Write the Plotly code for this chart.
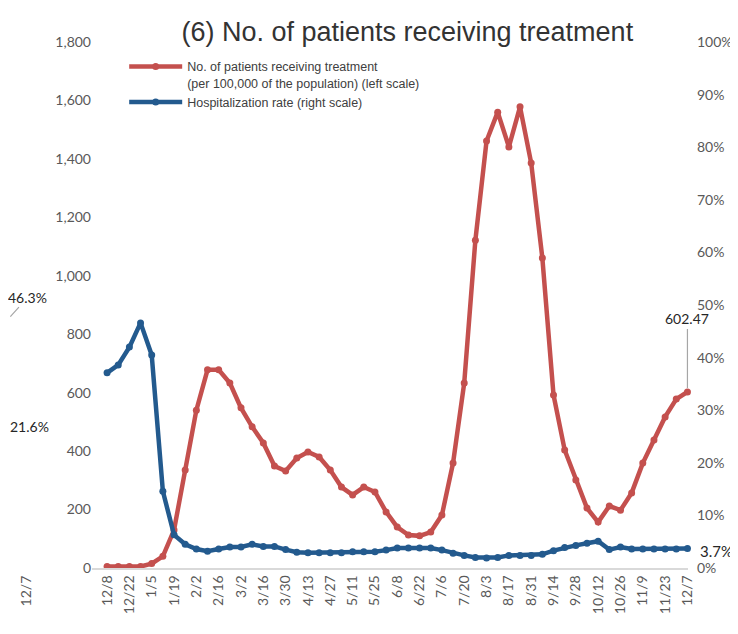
import plotly.graph_objects as go

weeks = ["12/8", "12/15", "12/22", "12/29", "1/5", "1/12", "1/19", "1/26", "2/2", "2/9",
         "2/16", "2/23", "3/2", "3/9", "3/16", "3/23", "3/30", "4/6", "4/13", "4/20",
         "4/27", "5/4", "5/11", "5/18", "5/25", "6/1", "6/8", "6/15", "6/22", "6/29",
         "7/6", "7/13", "7/20", "7/27", "8/3", "8/10", "8/17", "8/24", "8/31", "9/7",
         "9/14", "9/21", "9/28", "10/5", "10/12", "10/19", "10/26", "11/2", "11/9", "11/16",
         "11/23", "11/30", "12/7"]

patients = [5, 5, 5, 5, 15, 40, 130, 335, 540, 678,
            678, 633, 548, 483, 428, 349, 332, 376, 397, 380,
            335, 277, 250, 277, 260, 192, 140, 113, 110, 123,
            181, 359, 633, 1122, 1461, 1560, 1441, 1578, 1386, 1061,
            592, 404, 301, 205, 157, 212, 198, 257, 359, 438,
            517, 578, 602.47]

hosp_rate = [37.1, 38.6, 42.0, 46.6, 40.5, 14.6, 6.3, 4.5, 3.6, 3.2,
             3.6, 4.0, 4.0, 4.5, 4.1, 4.1, 3.5, 3.0, 2.9, 2.9,
             2.9, 2.9, 3.1, 3.1, 3.1, 3.4, 3.8, 3.8, 3.8, 3.8,
             3.4, 2.8, 2.4, 2.0, 1.9, 2.0, 2.4, 2.4, 2.4, 2.6,
             3.3, 3.9, 4.3, 4.7, 5.1, 3.5, 4.0, 3.6, 3.6, 3.6,
             3.6, 3.6, 3.7]

tick_labels = weeks[::2]

# labels of the neighbouring chart that is cut off at the left edge
prev_chart_labels = ["46.3%", "21.6%", "12/7"]

RED = "#C4504E"
BLUE = "#235A8E"
GREY_TXT = "#595959"
TICK_FONT = dict(family="Lato, Liberation Sans, sans-serif", size=14, color=GREY_TXT)
DARK_FONT = dict(family="Lato, Liberation Sans, sans-serif", size=14, color="#262626")

fig = go.Figure()
fig.add_trace(go.Scatter(
    x=weeks, y=patients, mode="lines+markers",
    name="No. of patients receiving treatment<br>(per 100,000 of the population) (left scale)",
    line=dict(color=RED, width=4.5), marker=dict(color=RED, size=7),
    yaxis="y", cliponaxis=False))
fig.add_trace(go.Scatter(
    x=weeks, y=hosp_rate, mode="lines+markers",
    name="Hospitalization rate (right scale)",
    line=dict(color=BLUE, width=4.5), marker=dict(color=BLUE, size=7),
    yaxis="y2", cliponaxis=False))

annotations = [
    dict(x=weeks[-1], y=patients[-1], xref="x", yref="y", text=f"{patients[-1]:.2f}",
         showarrow=True, arrowhead=0, arrowwidth=1.2, arrowcolor="#A6A6A6",
         ax=0, ay=-73, standoff=4, font=DARK_FONT),
    dict(x=1, y=hosp_rate[-1], xref="paper", yref="y2", text=f"{hosp_rate[-1]}%",
         showarrow=False, xanchor="left", xshift=10, yshift=-2,
         font=dict(DARK_FONT, size=15)),
    dict(x=-0.141, y=0.475, xref="paper", yref="paper", text=prev_chart_labels[0],
         showarrow=True, arrowhead=0, arrowwidth=1.2, arrowcolor="#A6A6A6",
         ax=20, ay=-21, standoff=2, font=DARK_FONT),
    dict(x=-0.141, y=0.249, xref="paper", yref="paper", text=prev_chart_labels[1],
         showarrow=False, xanchor="left", font=DARK_FONT),
    dict(x=-0.129, y=-0.01, xref="paper", yref="paper", text=prev_chart_labels[2],
         showarrow=False, textangle=-90, yanchor="top", font=TICK_FONT),
]

fig.update_layout(
    width=730, height=626,
    margin=dict(l=84, r=50, t=34, b=66, autoexpand=False),
    paper_bgcolor="white", plot_bgcolor="white",
    title=dict(text="(6) No. of patients receiving treatment",
               x=0.529, xref="paper", xanchor="center",
               y=1 - 24 / 626, yref="container", yanchor="middle",
               font=dict(family="Liberation Sans, Arial, sans-serif", size=27, color="#333333")),
    showlegend=True,
    legend=dict(x=0.054, y=0.981, xanchor="left", yanchor="top",
                bgcolor="rgba(0,0,0,0)", valign="top", tracegroupgap=4, itemwidth=53,
                font=dict(family="Liberation Sans, Arial, sans-serif", size=12.5, color="#404040")),
    xaxis=dict(type="category", range=[-1.35, 52.05], automargin=False,
               tickmode="array", tickvals=tick_labels, ticktext=tick_labels,
               tickangle=-90, tickfont=TICK_FONT, showgrid=False,
               showline=True, linecolor="#D9D9D9", linewidth=1.5, ticks="", zeroline=False),
    yaxis=dict(range=[0, 1800], dtick=200, tickformat=",", tickfont=TICK_FONT, automargin=False,
               showgrid=False, zeroline=False, showline=False, ticks=""),
    yaxis2=dict(range=[0, 100], dtick=10, ticksuffix="%", tickfont=TICK_FONT, automargin=False,
                overlaying="y", side="right", showgrid=False, zeroline=False,
                showline=False, ticks="", ticklabelstandoff=8),
    annotations=annotations,
)

fig.write_html("out.html")
